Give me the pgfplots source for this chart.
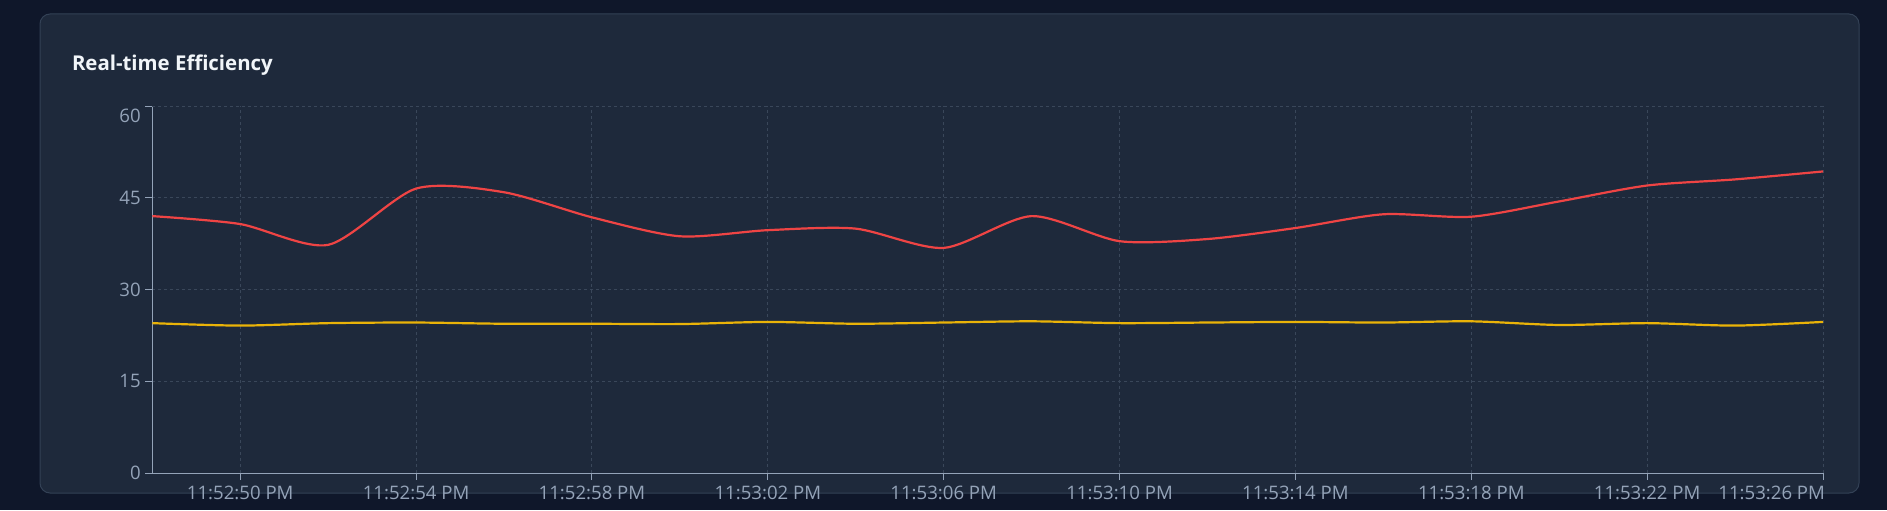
\documentclass[border=0pt]{standalone}
\usepackage{fontspec}
\setmainfont{Open Sans}
\usepackage{pgfplots}
\usepackage{pgfplotstable}
\pgfplotsset{compat=1.18}

\definecolor{pagebg}{HTML}{0F172A}
\definecolor{cardbg}{HTML}{1E293B}
\definecolor{cardline}{HTML}{334155}
\definecolor{gridc}{HTML}{3A475A}
\definecolor{axisc}{HTML}{94A3B8}
\definecolor{titlec}{HTML}{F1F5F9}
\definecolor{effred}{HTML}{EF4444}
\definecolor{effyellow}{HTML}{EAB308}

% seconds after 11:52:48 PM
\pgfplotstableread{
t  red   yellow
0  42.0  24.5
2  40.7  24.1
4  37.3  24.5
6  46.5  24.6
8  45.9  24.4
10 41.8  24.4
12 38.7  24.35
14 39.7  24.7
16 39.95 24.4
18 36.8  24.6
20 42.0  24.8
22 37.9  24.5
24 38.25 24.6
26 40.05 24.7
28 42.3  24.6
30 41.9  24.8
32 44.4  24.2
34 47.0  24.5
36 48.0  24.1
38 49.3  24.7
}\effdata

\begin{document}
\begin{tikzpicture}[x=0.5pt,y=0.5pt]
\path[use as bounding box] (0,0) rectangle (1887,510);
\fill[pagebg] (0,0) rectangle (1887,510);
\draw[cardline, fill=cardbg, line width=0.5pt, rounded corners=5pt] (40,17) rectangle (1859,496);
\node[anchor=base west, inner sep=0pt, text=titlec,
      font=\bfseries\fontsize{10.2pt}{12pt}\selectfont] at (71.6,439.3) {Real-time Efficiency};

\begin{axis}[
  at={(76.15pt,18.5pt)}, anchor=south west,
  scale only axis, width=835.35pt, height=183.5pt,
  xmin=0, xmax=38, ymin=0, ymax=60,
  axis lines*=left,
  axis line style={axisc, line width=0.5pt},
  xtick={2,6,...,34},
  xticklabels={11:52:50 PM,11:52:54 PM,11:52:58 PM,11:53:02 PM,11:53:06 PM,11:53:10 PM,11:53:14 PM,11:53:18 PM,11:53:22 PM},
  extra x ticks={38},
  extra x tick labels={11:53:26 PM},
  extra x tick style={grid=major, xticklabel style={anchor=north east, xshift=4.5pt}},
  ytick={0,15,30,45},
  extra y ticks={60},
  extra y tick labels={60},
  extra y tick style={grid=major, yticklabel style={yshift=-4.75pt}},
  tick align=outside,
  major tick length=3.5pt,
  tick style={axisc, line width=0.5pt},
  ticklabel style={font=\fontsize{9.3pt}{11pt}\selectfont, text=axisc},
  xticklabel style={yshift=0.6pt},
  yticklabel style={xshift=1.25pt},
  grid=major,
  major grid style={gridc, line width=0.5pt, dash pattern=on 1.5pt off 1.5pt},
  /pgf/number format/assume math mode=true,
]
\addplot[effyellow, line width=1.1pt, smooth, tension=0.45] table[x=t, y=yellow] {\effdata};
\addplot[effred, line width=1.1pt, smooth, tension=0.45] table[x=t, y=red] {\effdata};
\end{axis}
\end{tikzpicture}
\end{document}
